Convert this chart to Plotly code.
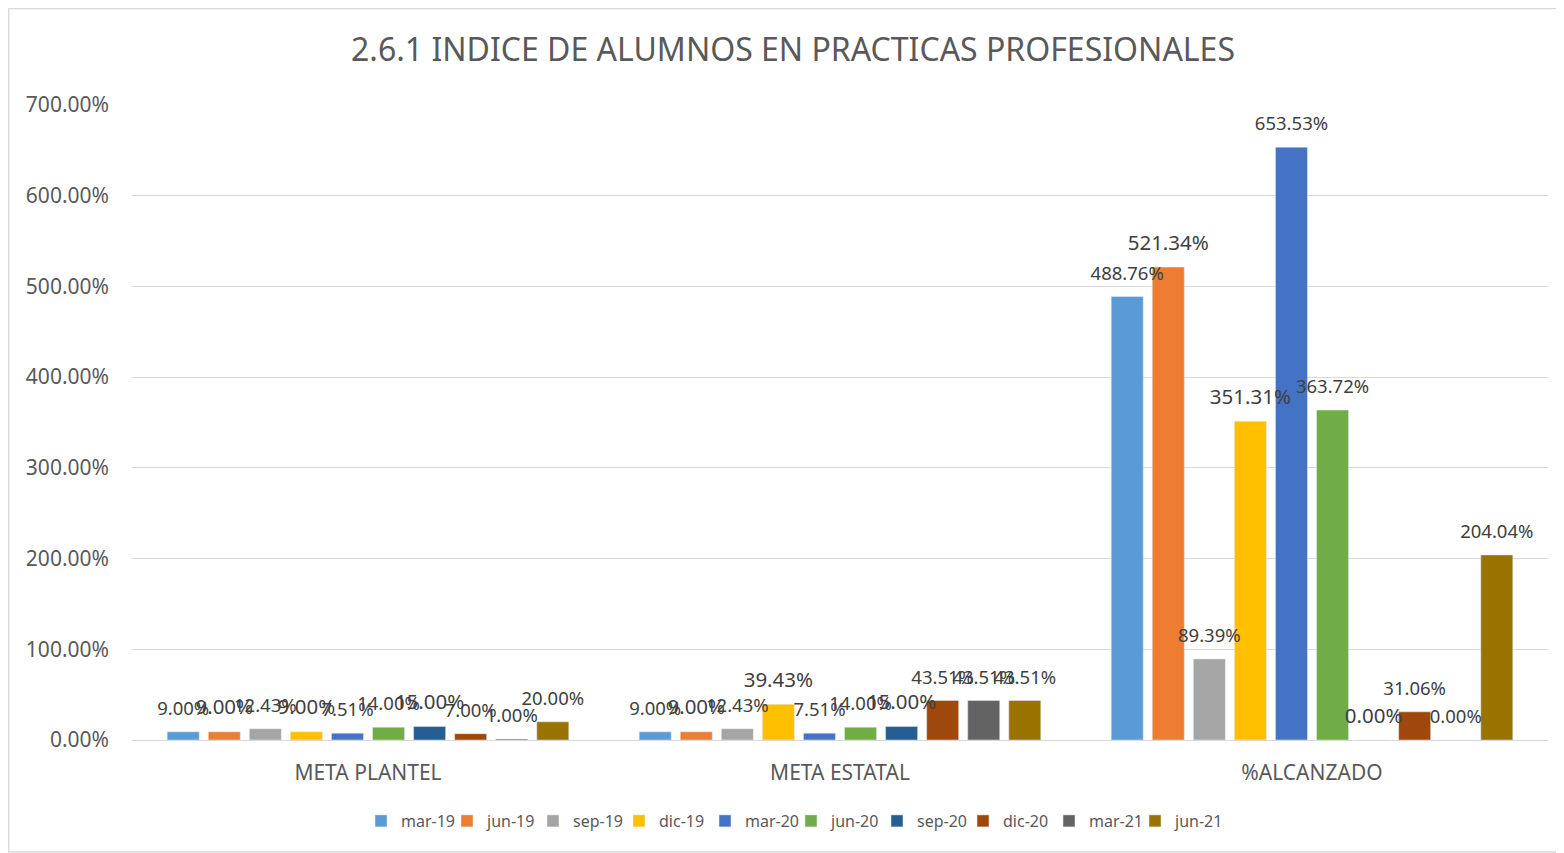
import plotly.graph_objects as go

categories = ["META PLANTEL", "META ESTATAL", "%ALCANZADO"]
series_names = ["mar-19", "jun-19", "sep-19", "dic-19", "mar-20", "jun-20", "sep-20", "dic-20", "mar-21", "jun-21"]
values = {
    "mar-19": [9.00, 9.00, 488.76],
    "jun-19": [9.00, 9.00, 521.34],
    "sep-19": [12.43, 12.43, 89.39],
    "dic-19": [9.00, 39.43, 351.31],
    "mar-20": [7.51, 7.51, 653.53],
    "jun-20": [14.00, 14.00, 363.72],
    "sep-20": [15.00, 15.00, 0.00],
    "dic-20": [7.00, 43.51, 31.06],
    "mar-21": [1.00, 43.51, 0.00],
    "jun-21": [20.00, 43.51, 204.04],
}
colors = ["#5B9BD5", "#ED7D31", "#A5A5A5", "#FFC000", "#4472C4", "#70AD47", "#255E91", "#9E480E", "#636363", "#997300"]
large_label_series = {"jun-19", "dic-19", "sep-20"}

FONT = "Noto Sans"
TXT = "#595959"
LBL = "#404040"

W, H = 1556, 845
L, R, T, B = 124, 16, 97, 113
PW, PH = W - L - R, H - T - B

fig = go.Figure()
for name, col in zip(series_names, colors):
    fig.add_trace(go.Bar(
        name=name, x=categories, y=values[name], marker_color=col,
        offsetgroup=name, alignmentgroup="a",
    ))
for name in series_names:
    size = 20.5 if name in large_label_series else 18.5
    fig.add_trace(go.Scatter(
        x=categories, y=values[name], mode="markers+text",
        text=[f"{v:.2f}%" for v in values[name]], textposition="top center",
        textfont=dict(family=FONT, size=size, color=LBL),
        marker=dict(size=18, opacity=0), showlegend=False, hoverinfo="skip",
        offsetgroup=name, alignmentgroup="a", cliponaxis=False,
    ))

fig.update_layout(
    width=W, height=H,
    paper_bgcolor="white", plot_bgcolor="white",
    margin=dict(l=L, r=R, t=T, b=B),
    barmode="group", bargap=0.13, bargroupgap=0.22,
    scattermode="group", scattergap=0.13,
    font=dict(family=FONT, color=TXT),
    title=dict(text="2.6.1 INDICE DE ALUMNOS EN PRACTICAS PROFESIONALES",
               x=785 / W, xanchor="center", y=1 - 42 / H, yanchor="middle", yref="container",
               font=dict(family=FONT, size=32, color=TXT)),
    legend=dict(orientation="h", x=(783 - L) / PW, xanchor="center", y=(PH - (813 - T)) / PH, yanchor="middle",
                font=dict(family=FONT, size=16, color=TXT), itemwidth=30, entrywidth=41,
                tracegroupgap=0),
    shapes=[dict(type="rect", xref="paper", yref="paper",
                 x0=-L / PW + 0.0005, x1=(1554 - L) / PW,
                 y0=-(844 - (T + PH)) / PH, y1=1 + (T - 0.5) / PH,
                 line=dict(color="#D9D9D9", width=1.5), fillcolor="rgba(0,0,0,0)", layer="below")],
)
fig.update_yaxes(range=[0, 700], dtick=100, tickformat=".2f", ticksuffix="%",
                 gridcolor="#D9D9D9", gridwidth=1.3, zeroline=False, showline=False,
                 tickfont=dict(family=FONT, size=21, color=TXT), ticklabelstandoff=22)
fig.update_xaxes(showline=True, linecolor="#D9D9D9", linewidth=1.3, ticks="",
                 tickfont=dict(family=FONT, size=21, color=TXT), ticklabelstandoff=14)

fig.write_html("out.html")
